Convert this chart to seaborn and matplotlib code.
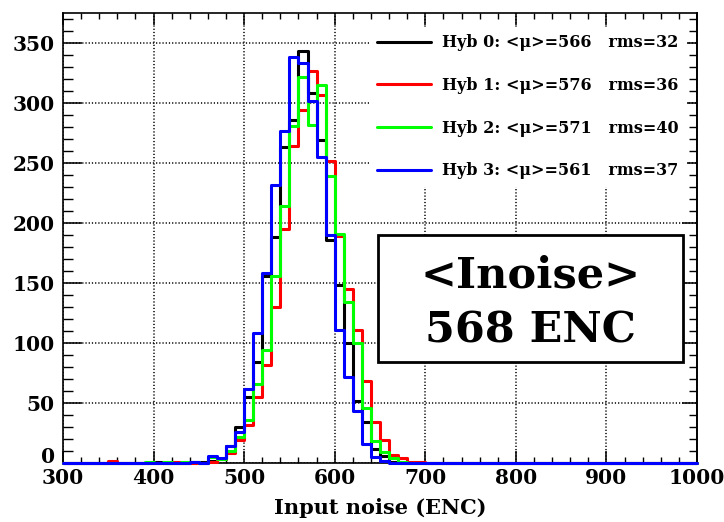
import numpy as np
import pandas as pd
import matplotlib
matplotlib.use("Agg")
import matplotlib.pyplot as plt
from matplotlib.lines import Line2D
from matplotlib.patches import Rectangle
from matplotlib.ticker import MultipleLocator
from matplotlib.font_manager import FontProperties
import seaborn as sns

# Lower edges of the 10-ENC bins that hold entries (340 ... 690)
bin_low = np.arange(340, 700, 10)
bin_width = 10
hist_range = (300, 1000)

hyb0_counts = [0, 0, 0, 0, 0, 0, 1, 0, 0, 0, 1, 1, 2, 3, 14, 30, 55, 84, 156, 188,
               263, 286, 343, 308, 269, 186, 148, 100, 52, 34, 12, 6, 1, 0, 0, 0]
hyb1_counts = [0, 2, 0, 0, 0, 0, 0, 0, 1, 0, 0, 0, 1, 3, 8, 19, 32, 55, 82, 130,
               195, 264, 294, 327, 307, 252, 189, 145, 111, 68, 34, 19, 7, 4, 1, 1]
hyb2_counts = [0, 0, 0, 0, 0, 1, 0, 1, 0, 1, 1, 0, 5, 3, 10, 22, 36, 66, 94, 156,
               214, 281, 322, 282, 315, 239, 191, 134, 100, 46, 18, 9, 4, 1, 0, 0]
hyb3_counts = [0, 0, 0, 0, 0, 0, 0, 0, 0, 0, 1, 0, 6, 4, 14, 26, 62, 108, 158, 232,
               277, 338, 333, 302, 255, 190, 111, 72, 43, 16, 5, 2, 0, 0, 0, 0]

hyb_names = ["Hyb 0", "Hyb 1", "Hyb 2", "Hyb 3"]
hyb_means = [566, 576, 571, 561]
hyb_rms = [32, 36, 40, 37]
hyb_colors = ["#000000", "#ff0000", "#00ff00", "#0000ff"]
all_counts = [hyb0_counts, hyb1_counts, hyb2_counts, hyb3_counts]

overall_mean = 568

sns.set_style("ticks")
plt.rcParams["font.family"] = ["DejaVu Serif"]
plt.rcParams["font.weight"] = "bold"
for key in ("text.color", "axes.labelcolor", "xtick.color", "ytick.color",
            "axes.edgecolor"):
    plt.rcParams[key] = "black"

fig = plt.figure(figsize=(7.24, 5.22), dpi=100)
ax = fig.add_axes([63 / 724, 1 - 463 / 522, 634 / 724, 450 / 522])

for counts, color in zip(all_counts, hyb_colors):
    df = pd.DataFrame({"noise": bin_low + bin_width / 2,
                       "entries": np.asarray(counts, float)})
    sns.histplot(data=df, x="noise", weights="entries", binwidth=bin_width,
                 binrange=hist_range, element="step", fill=False,
                 color=color, linewidth=2.2, ax=ax)

for line in ax.lines:
    line.set_clip_on(False)
    line.set_zorder(3)

ax.set_xlim(300, 1000)
ax.set_ylim(0, 375)
ax.set_ylabel("")
ax.set_xlabel("Input noise (ENC)", fontsize=15, fontweight="bold",
              family="DejaVu Serif", labelpad=7, color="black")

ax.xaxis.set_major_locator(MultipleLocator(100))
ax.xaxis.set_minor_locator(MultipleLocator(20))
ax.yaxis.set_major_locator(MultipleLocator(50))
ax.yaxis.set_minor_locator(MultipleLocator(10))

ax.set_axisbelow(True)
ax.grid(True, which="major", color="black", linestyle=(0, (0.8, 1.3)),
        linewidth=1.1)

for sp in ax.spines.values():
    sp.set_visible(True)
    sp.set_linewidth(1.2)
    sp.set_color("black")

ax.tick_params(axis="x", which="major", direction="in", length=8.5, width=1.1,
               top=True, bottom=True, labelsize=14.5, pad=3.5, colors="black")
ax.tick_params(axis="x", which="minor", direction="in", length=4.3, width=1.0,
               top=True, bottom=True, colors="black")
ax.tick_params(axis="y", which="major", direction="in", length=14, width=1.1,
               left=True, right=False, labelsize=14.5, pad=5.8, colors="black")
ax.tick_params(axis="y", which="minor", direction="in", length=7, width=1.0,
               left=True, right=False, colors="black")

# right-hand ticks are a bit shorter than the left-hand ones
sec = ax.secondary_yaxis("right")
sec.yaxis.set_major_locator(MultipleLocator(50))
sec.yaxis.set_minor_locator(MultipleLocator(10))
sec.tick_params(which="major", direction="in", length=11, width=1.1,
                labelright=False, colors="black")
sec.tick_params(which="minor", direction="in", length=5.5, width=1.0,
                colors="black")
sec.spines["right"].set_linewidth(1.2)

handles = [Line2D([0], [0], color=c, lw=2.2) for c in hyb_colors]
labels = [f"{n}: <\u03bc>={m}   rms={r}"
          for n, m, r in zip(hyb_names, hyb_means, hyb_rms)]
leg = ax.legend(handles, labels, loc="upper left",
                bbox_to_anchor=(0.482, 0.970), borderaxespad=0,
                borderpad=0.5, handlelength=3.4, handletextpad=0.7,
                labelspacing=1.6, frameon=True, facecolor="white",
                edgecolor="none", framealpha=1, fancybox=False,
                labelcolor="black",
                prop=FontProperties(family="DejaVu Serif", weight="bold",
                                    size=11.5))
leg.set_zorder(5)

box = Rectangle((0.497, 0.2244), 0.481, 0.2823, transform=ax.transAxes,
                facecolor="white", edgecolor="black", linewidth=2.0, zorder=4)
ax.add_patch(box)
ax.text(0.737, 0.3889, "<Inoise>", transform=ax.transAxes, ha="center",
        va="baseline", fontsize=31, fontweight="bold", family="DejaVu Serif",
        color="black", zorder=6)
ax.text(0.737, 0.2667, f"{overall_mean} ENC", transform=ax.transAxes,
        ha="center", va="baseline", fontsize=31, fontweight="bold",
        family="DejaVu Serif", color="black", zorder=6)

# lay out the ticks once, then make labels bold and sit the "0" on the axis
fig.canvas.draw()
for lab in ax.get_xticklabels() + ax.get_yticklabels():
    lab.set_fontweight("bold")
for tick in ax.yaxis.get_major_ticks():
    if tick.label1.get_text() == "0":
        tick.label1.set_verticalalignment("baseline")

fig.savefig("out.png", dpi=100)
